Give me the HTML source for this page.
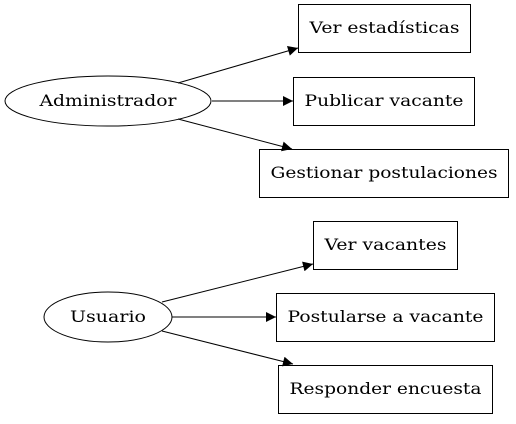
<!DOCTYPE html>
<html><head><meta charset="utf-8"><style>html,body{margin:0;padding:0;background:#fff}</style></head>
<body>
<svg width="516" height="419" viewBox="0 0 516 419" xmlns="http://www.w3.org/2000/svg" font-family="DejaVu Serif, serif" font-size="16">
<defs><marker id="a" viewBox="0 0 10 10" refX="10" refY="5" markerWidth="14" markerHeight="10" markerUnits="userSpaceOnUse" orient="auto"><path d="M0,0L10,5L0,10z" fill="#000"/></marker></defs>
<g fill="none" stroke="#000" stroke-width="1">
<ellipse cx="108" cy="101" rx="103" ry="25"/>
<ellipse cx="108" cy="317" rx="64" ry="25"/>
<rect x="298.5" y="4.5" width="172" height="48"/>
<rect x="293.5" y="77.5" width="181" height="48"/>
<rect x="259.5" y="149.5" width="249" height="48"/>
<rect x="313.5" y="221.5" width="144" height="48"/>
<rect x="276.5" y="293.5" width="218" height="48"/>
<rect x="278.5" y="365.5" width="214" height="48"/>
<g marker-end="url(#a)">
<line x1="178" y1="83" x2="298" y2="48"/>
<line x1="212" y1="101" x2="293" y2="101"/>
<line x1="178" y1="119" x2="292" y2="149"/>
<line x1="162" y1="302" x2="313" y2="264"/>
<line x1="172" y1="317" x2="276" y2="317"/>
<line x1="162" y1="331" x2="293" y2="364"/>
</g></g>
<g text-anchor="middle" fill="#000">
<text x="108" y="106" textLength="137" lengthAdjust="spacingAndGlyphs">Administrador</text>
<text x="108" y="322" textLength="76" lengthAdjust="spacingAndGlyphs">Usuario</text>
<text x="384.5" y="33" textLength="150" lengthAdjust="spacingAndGlyphs">Ver estadísticas</text>
<text x="384" y="106" textLength="159" lengthAdjust="spacingAndGlyphs">Publicar vacante</text>
<text x="384" y="178" textLength="227" lengthAdjust="spacingAndGlyphs">Gestionar postulaciones</text>
<text x="385.5" y="250" textLength="122" lengthAdjust="spacingAndGlyphs">Ver vacantes</text>
<text x="385.5" y="322" textLength="196" lengthAdjust="spacingAndGlyphs">Postularse a vacante</text>
<text x="385.5" y="394" textLength="192" lengthAdjust="spacingAndGlyphs">Responder encuesta</text>
</g>
</svg>
</body></html>
